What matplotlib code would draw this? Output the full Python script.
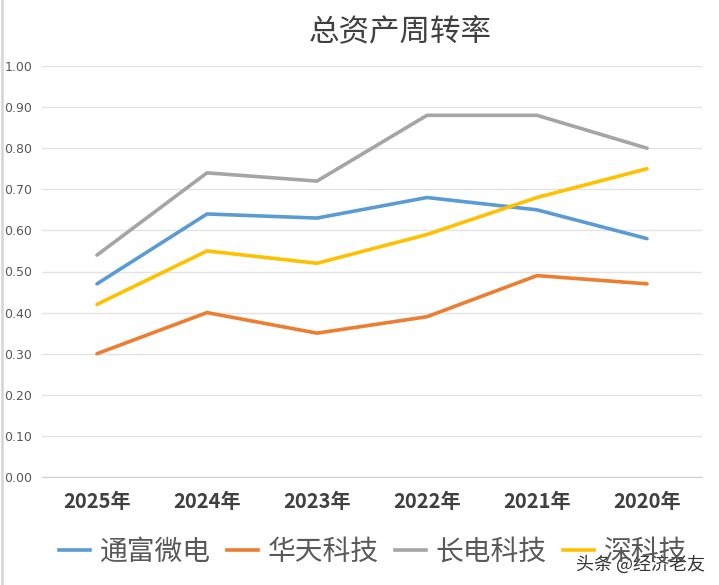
import matplotlib
matplotlib.use("Agg")
import matplotlib.pyplot as plt
from matplotlib.lines import Line2D

plt.rcParams['font.family'] = ['Noto Sans CJK SC', 'DejaVu Sans']

categories = ["2025年", "2024年", "2023年", "2022年", "2021年", "2020年"]
series_names = ["通富微电", "华天科技", "长电科技", "深科技"]
tongfu = [0.47, 0.64, 0.63, 0.68, 0.65, 0.58]
huatian = [0.30, 0.40, 0.35, 0.39, 0.49, 0.47]
changdian = [0.54, 0.74, 0.72, 0.88, 0.88, 0.80]
shenke = [0.42, 0.55, 0.52, 0.59, 0.68, 0.75]
yticks = [0.0, 0.1, 0.2, 0.3, 0.4, 0.5, 0.6, 0.7, 0.8, 0.9, 1.0]
colors = ["#5B9BD5", "#ED7D31", "#A5A5A5", "#FFC000"]

fig = plt.figure(figsize=(7.19, 5.85), dpi=100)
ax = fig.add_axes([42/719, 1-477/585, (702-42)/719, (477-66)/585])

x = list(range(len(categories)))
for vals, c in zip([tongfu, huatian, changdian, shenke], colors):
    ax.plot(x, vals, color=c, lw=2.6, solid_capstyle='round', zorder=3)

ax.set_xlim(-0.5, len(categories) - 0.5)
ax.set_ylim(0, 1.0)
ax.set_yticks(yticks)
ax.set_yticklabels([f"{v:.2f}" for v in yticks], fontsize=9, color="#595959",
                   family=['DejaVu Sans'])
ax.yaxis.set_tick_params(length=0, pad=7)
ax.grid(axis='y', color="#E3E3E3", lw=1)
ax.set_axisbelow(True)
ax.set_xticks(x)
ax.set_xticklabels(categories, fontsize=14.5, fontweight='bold', color="#404040")
ax.xaxis.set_tick_params(length=0, pad=10)
for s in ['top', 'right', 'left']:
    ax.spines[s].set_visible(False)
ax.spines['bottom'].set_color("#D0D0D0")

fig.text(400/719, 1-33/585, "总资产周转率", ha='center', va='center', fontsize=22, color="#404040")

handles = [Line2D([0], [0], color=c, lw=2.6) for c in colors]
fig.legend(handles, series_names, loc='center', bbox_to_anchor=(373/719, 1-552/585),
           ncol=4, frameon=False, fontsize=20, handlelength=1.1, columnspacing=0.6,
           handletextpad=0.35, labelcolor="#595959")

fig.text(705/719, 1-565/585, "头条 @经济老友", ha='right', va='center', fontsize=13, color="#333333")

fig.add_artist(Line2D([2/719, 2/719], [0, 1], color="#D8D8D8", lw=2))

fig.savefig("out.png", dpi=100)
